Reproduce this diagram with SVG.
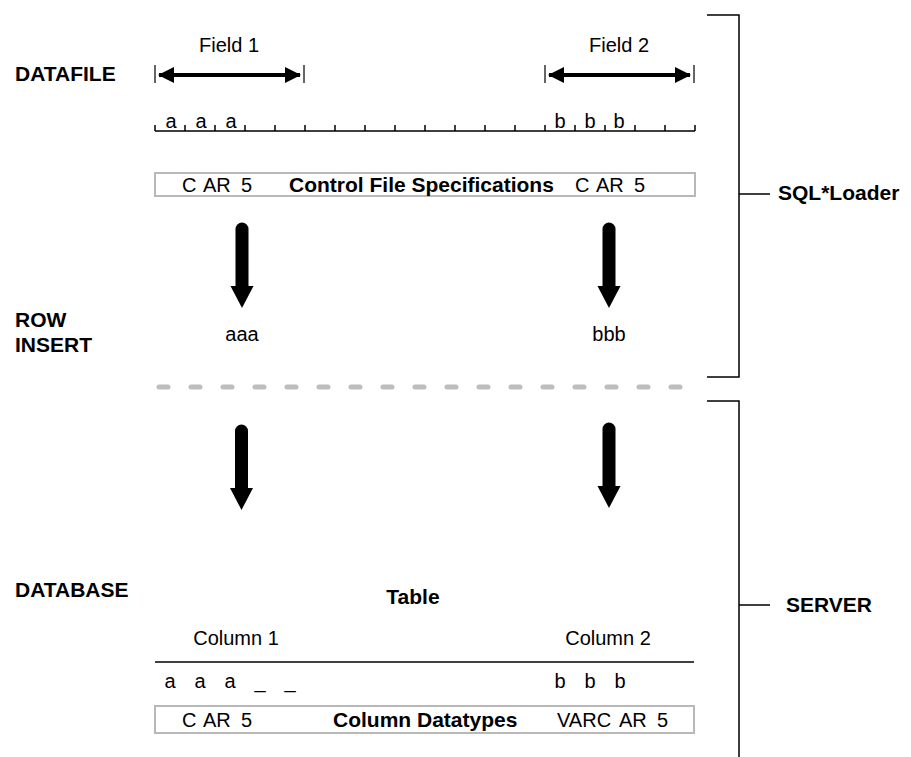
<svg xmlns="http://www.w3.org/2000/svg" width="911" height="757" viewBox="0 0 911 757">
<style>
text{font-family:"Liberation Sans",Arial,sans-serif;fill:#000}
.r{font-size:20px}
.b{font-size:21px;font-weight:bold}
.m{text-anchor:middle}
.ln{stroke:#000;stroke-width:1.5;fill:none}
.bar{stroke:#333;stroke-width:1.5}
.box{fill:#fff;stroke:#b8b8b8;stroke-width:2}
.shaft{stroke:#000;stroke-width:13;stroke-linecap:round}
.fa{stroke:#000;stroke-width:4}
</style>
<defs>
<marker id="fh" viewBox="0 0 16 16" refX="15" refY="8" markerWidth="16" markerHeight="16" markerUnits="userSpaceOnUse" orient="auto-start-reverse">
<path d="M0,0 L16,8 L0,16 z" fill="#000"/>
</marker>
</defs>
<rect width="911" height="757" fill="#fff"/>

<g id="labels-left">
<text class="b" x="15" y="81">DATAFILE</text>
<text class="b" x="15" y="327">ROW</text>
<text class="b" x="15" y="352">INSERT</text>
<text class="b" x="15" y="597">DATABASE</text>
</g>

<g id="field1">
<text class="r m" x="229" y="52">Field 1</text>
<line class="bar" x1="155" y1="65" x2="155" y2="83"/>
<line class="bar" x1="304" y1="65" x2="304" y2="83"/>
<line class="fa" x1="159" y1="75" x2="300" y2="75" marker-start="url(#fh)" marker-end="url(#fh)"/>
</g>
<g id="field2">
<text class="r m" x="619" y="52">Field 2</text>
<line class="bar" x1="545" y1="65" x2="545" y2="83"/>
<line class="bar" x1="694" y1="65" x2="694" y2="83"/>
<line class="fa" x1="549" y1="75" x2="690" y2="75" marker-start="url(#fh)" marker-end="url(#fh)"/>
</g>

<g id="ruler">
<path class="ln" stroke-width="1.2" d="M155,131 H695 M155,125 V131 M185,125 V131 M215,125 V131 M245,125 V131 M275,125 V131 M305,125 V131 M335,125 V131 M365,125 V131 M395,125 V131 M425,125 V131 M455,125 V131 M485,125 V131 M515,125 V131 M545,125 V131 M575,125 V131 M605,125 V131 M635,125 V131 M665,125 V131 M695,125 V131"/>
<text class="r m" x="171" y="128">a</text>
<text class="r m" x="201" y="128">a</text>
<text class="r m" x="231" y="128">a</text>
<text class="r m" x="560" y="128">b</text>
<text class="r m" x="590" y="128">b</text>
<text class="r m" x="619" y="128">b</text>
</g>

<g id="control-file">
<rect class="box" x="155" y="173" width="540" height="23"/>
<text class="r" y="192"><tspan x="182">C</tspan><tspan x="203">AR</tspan><tspan x="241">5</tspan></text>
<text class="b" x="289" y="192">Control File Specifications</text>
<text class="r" y="192"><tspan x="575">C</tspan><tspan x="596">AR</tspan><tspan x="634">5</tspan></text>
</g>

<g id="connectors">
<line class="shaft" x1="242" y1="229" x2="242" y2="288"/>
<polygon points="230.5,286 253.5,286 242,308"/>
<line class="shaft" x1="609" y1="229" x2="609" y2="288"/>
<polygon points="597.5,286 620.5,286 609,308"/>
<line class="shaft" x1="241.5" y1="431" x2="241.5" y2="490"/>
<polygon points="230,488 253,488 241.5,510"/>
<line class="shaft" x1="609" y1="429" x2="609" y2="488"/>
<polygon points="597.5,486 620.5,486 609,508"/>
</g>

<g id="row-insert">
<text class="r m" x="242" y="341">aaa</text>
<text class="r m" x="609" y="341">bbb</text>
</g>

<g id="divider">
<line x1="159" y1="387" x2="685" y2="387" stroke="#bdbdbd" stroke-width="5" stroke-linecap="round" stroke-dasharray="9 23"/>
</g>

<g id="table">
<text class="b m" x="413" y="604">Table</text>
<text class="r m" x="236" y="645">Column 1</text>
<text class="r m" x="608" y="645">Column 2</text>
<line class="ln" x1="155" y1="662" x2="694" y2="662"/>
<text class="r m" x="170" y="688">a</text>
<text class="r m" x="200" y="688">a</text>
<text class="r m" x="230" y="688">a</text>
<text class="r m" x="260" y="688">_</text>
<text class="r m" x="290" y="688">_</text>
<text class="r m" x="560" y="688">b</text>
<text class="r m" x="590" y="688">b</text>
<text class="r m" x="620" y="688">b</text>
<rect class="box" x="155" y="706" width="539" height="27"/>
<text class="r" y="727"><tspan x="182">C</tspan><tspan x="203">AR</tspan><tspan x="241">5</tspan></text>
<text class="b" x="333" y="727">Column Datatypes</text>
<text class="r" y="727"><tspan x="557">VARC</tspan><tspan x="619">AR</tspan><tspan x="657">5</tspan></text>
</g>

<g id="sqlloader">
<path class="ln" d="M707,15 H739 V377 H707 M739,194 H770"/>
<text class="b" x="778" y="200">SQL*Loader</text>
</g>
<g id="server">
<path class="ln" d="M707,401 H739 V757 M739,605 H770"/>
<text class="b" x="786" y="612">SERVER</text>
</g>
</svg>
